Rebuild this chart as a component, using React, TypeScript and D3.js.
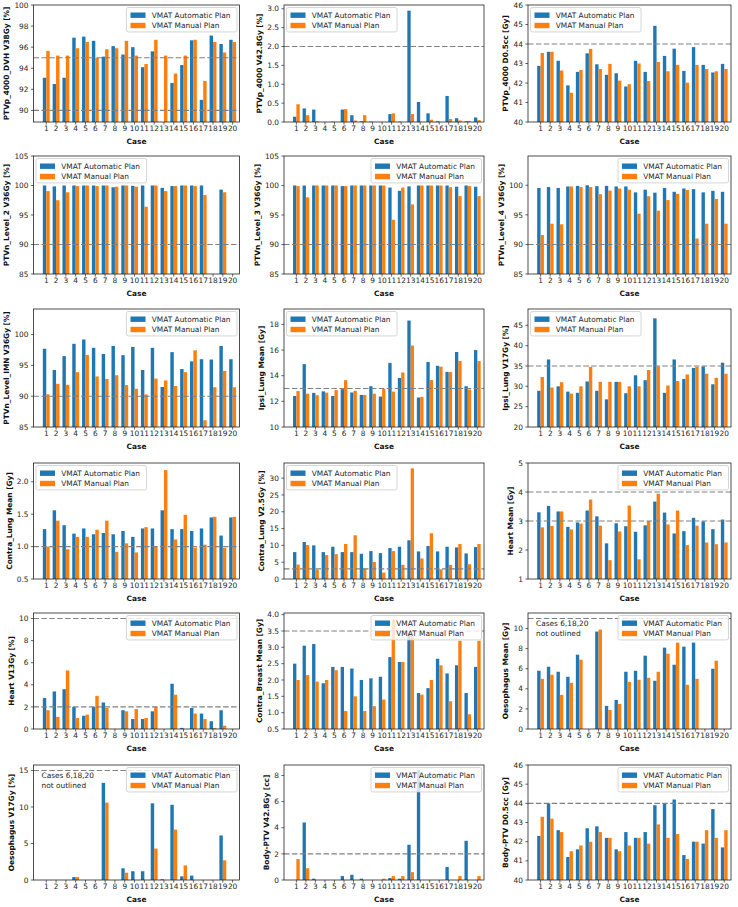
import React from "react";
import * as d3 from "d3";

const FONT = "DejaVu Sans, Liberation Sans, sans-serif";
const FS = 7.4;
const BLUE = "#1f77b4";
const ORANGE = "#ff7f0e";

const cases = [1, 2, 3, 4, 5, 6, 7, 8, 9, 10, 11, 12, 13, 14, 15, 16, 17, 18, 19, 20];
const legendLabels = ["VMAT Automatic Plan", "VMAT Manual Plan"];
const noteLines = ["Cases 6,18,20", "not outlined"];

type V = number | null;

// Row 1
const ptvpV38Auto: V[] = [93.1, 92.5, 93.1, 96.9, 97.0, 96.6, 95.1, 96.1, 95.3, 96.0, 94.1, 95.6, null, 92.6, 94.3, 96.65, 91.0, 97.1, 96.3, 96.7];
const ptvpV38Manual: V[] = [95.65, 95.2, 95.2, 95.9, 96.5, 95.0, 95.8, 95.9, 96.6, 95.2, 94.4, 96.7, 95.2, 93.5, 95.2, 96.7, 92.8, 96.5, 95.5, 96.5];
const ptvpV428Auto: V[] = [0.14, 0.36, 0.33, 0, 0.01, 0.33, 0.18, 0.02, 0.01, 0, 0.21, 0.01, 2.95, 0.53, 0.23, 0.02, 0.69, 0.1, 0.02, 0.12];
const ptvpV428Manual: V[] = [0.47, 0.18, 0.02, 0, 0, 0.34, 0.04, 0.18, 0, 0, 0.23, 0, 0.21, 0, 0.06, 0, 0.08, 0.04, 0.02, 0.05];
const ptvpD05Auto: V[] = [42.88, 43.6, 43.14, 41.88, 42.57, 43.52, 42.96, 42.42, 42.5, 41.82, 43.14, 42.57, 44.93, 43.39, 43.76, 42.62, 43.84, 42.93, 42.54, 42.98];
const ptvpD05Manual: V[] = [43.54, 43.6, 42.64, 41.5, 42.66, 43.75, 42.72, 42.98, 42.12, 41.94, 43.0, 42.1, 43.08, 42.6, 42.93, 42.02, 42.93, 42.72, 42.6, 42.72];

// Row 2
const lvl2Auto: V[] = [100, 99.85, 100, 100, 100, 100, 100, 99.7, 100, 99.95, 100, 100, 99.6, 99.9, 100, 100, 100, null, 99.3, null];
const lvl2Manual: V[] = [99.05, 97.5, 98.85, 99.9, 100, 99.9, 100, 99.8, 100, 99.8, 96.4, 100, 99.05, 99.9, 100, 99.9, 98.4, null, 98.85, null];
const lvl3Auto: V[] = [100, 100, 100, 100, 100, 99.9, 100, 100, 100, 100, 99.65, 99.1, 99.85, 100, 100, 100, 100, 99.8, 100, 99.8];
const lvl3Manual: V[] = [99.9, 98.0, 100, 100, 100, 99.9, 100, 100, 100, 100, 94.2, 99.65, 96.8, 100, 100, 100, 99.7, 98.2, 99.9, 98.2];
const lvl4Auto: V[] = [99.55, 99.7, 99.55, 99.8, 99.9, 100, 99.85, 99.9, 99.8, 99.8, 98.8, 99.25, 98.75, 99.55, 98.9, 99.45, 99.35, 98.8, 99.05, 98.9];
const lvl4Manual: V[] = [91.6, 93.5, 93.4, 99.8, 99.7, 99.7, 98.5, 99.1, 99.45, 99.25, 95.2, 98.15, 95.7, 97.5, 98.55, 99.2, 91.0, 93.5, 97.7, 93.5];

// Row 3
const imnAuto: V[] = [97.7, 94.25, 96.5, 98.5, 99.2, 97.85, 96.85, 98.15, 96.65, 98.0, 94.25, 97.85, 91.5, 97.15, 94.4, 95.65, 96.0, 95.95, 98.15, 96.0];
const imnManual: V[] = [90.3, 92.0, 91.85, 93.9, 96.7, 93.2, 92.8, 93.4, 91.8, 91.2, 90.3, 92.85, 92.55, 91.65, 93.9, 97.45, 86.1, 91.45, 94.1, 91.45];
const ipsiMeanAuto: V[] = [12.42, 14.9, 12.66, 12.78, 12.42, 12.95, 12.69, 12.5, 13.18, 12.37, 15.0, 13.82, 18.3, 12.3, 15.07, 14.77, 14.3, 15.85, 13.18, 16.0];
const ipsiMeanManual: V[] = [12.8, 12.6, 12.48, 12.68, 12.88, 13.65, 12.82, 12.5, 12.6, 12.97, 12.76, 14.25, 16.35, 12.35, 13.67, 14.7, 14.28, 15.15, 12.92, 15.14];
const ipsiV17Auto: V[] = [28.9, 36.6, 30.0, 28.7, 28.4, 31.2, 28.9, 26.8, 31.1, 28.3, 32.7, 31.5, 46.7, 28.4, 36.6, 31.8, 34.5, 34.9, 30.5, 35.8];
const ipsiV17Manual: V[] = [32.3, 29.7, 31.0, 28.2, 30.0, 34.8, 31.1, 31.1, 31.1, 30.0, 30.0, 34.0, 34.9, 30.2, 31.3, 32.9, 34.8, 33.1, 32.1, 33.1];

// Row 4
const contraMeanAuto: V[] = [1.27, 1.56, 1.33, 1.2, 1.28, 1.19, 1.21, 1.19, 1.24, 1.15, 1.28, 1.28, 1.56, 1.27, 1.27, 1.24, 1.28, 1.45, 1.17, 1.45];
const contraMeanManual: V[] = [1.0, 1.4, 0.96, 1.15, 1.15, 1.26, 1.4, 0.92, 1.05, 0.91, 1.3, 1.0, 2.18, 1.11, 1.49, 0.98, 1.03, 1.46, 0.98, 1.46];
const contraV25Auto: V[] = [8.0, 11.0, 10.0, 8.0, 9.6, 8.0, 8.0, 7.5, 8.3, 7.7, 9.2, 9.6, 11.5, 8.2, 9.8, 8.2, 9.6, 9.4, 7.6, 9.5];
const contraV25Manual: V[] = [4.3, 10.1, 2.8, 7.1, 7.4, 10.4, 13.0, 3.1, 5.1, 1.9, 8.3, 4.2, 32.9, 6.1, 13.6, 2.9, 4.2, 10.4, 4.4, 10.4];
const heartMeanAuto: V[] = [3.3, 3.52, 3.33, 2.8, 2.95, 3.36, 3.16, 2.23, 2.92, 2.82, 2.63, 2.85, 3.67, 3.29, 2.57, 2.65, 3.11, 2.99, 2.72, 3.05];
const heartMeanManual: V[] = [2.78, 2.83, 3.33, 2.71, 2.91, 3.74, 2.84, 1.65, 2.64, 3.53, 1.68, 3.0, 3.94, 2.88, 3.36, 2.17, 2.84, 2.26, 2.2, 2.26];

// Row 5
const heartV13Auto: V[] = [2.8, 3.4, 3.6, 2.0, 1.2, 2.0, 2.4, 0, 1.7, 0.9, 0.9, 1.6, 0, 4.1, 0.1, 1.9, 1.4, 0.7, 1.7, 0];
const heartV13Manual: V[] = [1.7, 1.1, 5.3, 1.0, 1.3, 3.0, 1.9, 0, 1.6, 1.8, 1.0, 2.0, 0, 3.1, 0, 1.4, 0.9, 0.1, 0.3, 0];
const breastMeanAuto: V[] = [2.5, 3.05, 3.1, 1.9, 2.4, 2.4, 2.35, 2.0, 2.05, 2.1, 2.7, 2.55, 3.45, 1.6, 1.75, 2.65, 2.2, 2.45, 1.6, 2.4];
const breastMeanManual: V[] = [2.0, 2.15, 1.95, 2.0, 2.3, 1.05, 1.5, 1.05, 1.2, 1.4, 3.85, 2.55, 3.35, 1.55, 2.0, 2.45, 1.35, 3.2, 0.95, 3.2];
const oesoMeanAuto: V[] = [5.8, 6.2, 5.7, 5.2, 7.4, null, 9.7, 2.3, 2.9, 5.7, 5.8, 7.3, 4.8, 8.1, 6.4, 8.2, 8.6, null, 6.0, null];
const oesoMeanManual: V[] = [5.0, 5.4, 3.4, 4.6, 6.9, null, 9.9, 1.9, 2.5, 4.7, 4.9, 5.1, 5.7, 7.5, 8.6, 4.4, 5.0, null, 6.8, null];

// Row 6
const oesoV17Auto: V[] = [0, 0, 0, 0.4, 0, null, 13.3, 0, 1.6, 1.2, 1.2, 10.5, 0.1, 10.3, 0.5, 0.6, 0, null, 6.1, null];
const oesoV17Manual: V[] = [0, 0, 0, 0.4, 0, null, 10.6, 0, 1.0, 0, 0, 4.3, 0, 6.9, 2.0, 0, 0, null, 2.7, null];
const bodyV428Auto: V[] = [0, 4.4, 0.1, 0, 0, 0.3, 0.4, 0.1, 0, 0, 0.15, 0.1, 2.7, 8.4, 0, 0, 1.0, 0, 3.0, 0];
const bodyV428Manual: V[] = [1.6, 0.9, 0, 0, 0, 0, 0, 0, 0, 0.1, 0.3, 0.3, 0.6, 0, 0, 0, 0, 0.3, 0, 0.3];
const bodyD05Auto: V[] = [42.3, 44.0, 42.6, 41.2, 41.6, 42.7, 42.8, 42.2, 41.6, 42.5, 42.2, 42.5, 43.9, 44.0, 44.2, 41.3, 42.0, 41.9, 43.7, 41.7];
const bodyD05Manual: V[] = [43.3, 43.2, 42.5, 41.5, 41.8, 42.0, 42.5, 42.2, 41.5, 41.8, 42.2, 41.9, 42.9, 42.2, 42.4, 41.1, 42.0, 42.6, 42.2, 42.6];

type Panel = {
  label: string;
  auto: V[];
  manual: V[];
  ylim: [number, number];
  ticks: number[];
  dec: number;
  lines: number[];
  legend: "left" | "right";
  note?: boolean;
};

const panels: Panel[] = [
  { label: "PTVp_4000_DVH V38Gy [%]", auto: ptvpV38Auto, manual: ptvpV38Manual, ylim: [88.9, 100], ticks: [90, 92, 94, 96, 98, 100], dec: 0, lines: [95, 90], legend: "right" },
  { label: "PTVp_4000 V42.8Gy [%]", auto: ptvpV428Auto, manual: ptvpV428Manual, ylim: [0, 3.1], ticks: [0, 0.5, 1, 1.5, 2, 2.5, 3], dec: 1, lines: [2], legend: "left" },
  { label: "PTVp_4000 D0.5cc [Gy]", auto: ptvpD05Auto, manual: ptvpD05Manual, ylim: [40, 46], ticks: [40, 41, 42, 43, 44, 45, 46], dec: 0, lines: [44], legend: "left" },
  { label: "PTVn_Level_2 V36Gy [%]", auto: lvl2Auto, manual: lvl2Manual, ylim: [85, 105], ticks: [85, 90, 95, 100, 105], dec: 0, lines: [90], legend: "left" },
  { label: "PTVn_Level_3 V36Gy [%]", auto: lvl3Auto, manual: lvl3Manual, ylim: [85, 105], ticks: [85, 90, 95, 100, 105], dec: 0, lines: [90], legend: "right" },
  { label: "PTVn_Level_4 V36Gy [%]", auto: lvl4Auto, manual: lvl4Manual, ylim: [85, 104.95], ticks: [85, 90, 95, 100], dec: 0, lines: [90], legend: "right" },
  { label: "PTVn_Level_IMN V36Gy [%]", auto: imnAuto, manual: imnManual, ylim: [85, 104.15], ticks: [85, 90, 95, 100], dec: 0, lines: [90], legend: "right" },
  { label: "Ipsi_Lung Mean [Gy]", auto: ipsiMeanAuto, manual: ipsiMeanManual, ylim: [10, 19.2], ticks: [10, 12, 14, 16, 18], dec: 0, lines: [13], legend: "left" },
  { label: "Ipsi_Lung V17Gy [%]", auto: ipsiV17Auto, manual: ipsiV17Manual, ylim: [20, 49.0], ticks: [20, 25, 30, 35, 40, 45], dec: 0, lines: [35], legend: "left" },
  { label: "Contra_Lung Mean [Gy]", auto: contraMeanAuto, manual: contraMeanManual, ylim: [0.5, 2.29], ticks: [0.5, 1, 1.5, 2], dec: 1, lines: [1], legend: "left" },
  { label: "Contra_Lung V2.5Gy [%]", auto: contraV25Auto, manual: contraV25Manual, ylim: [0, 34.5], ticks: [0, 5, 10, 15, 20, 25, 30], dec: 0, lines: [3], legend: "left" },
  { label: "Heart Mean [Gy]", auto: heartMeanAuto, manual: heartMeanManual, ylim: [1, 5], ticks: [1, 2, 3, 4, 5], dec: 0, lines: [4, 3], legend: "right" },
  { label: "Heart V13Gy [%]", auto: heartV13Auto, manual: heartV13Manual, ylim: [0, 10.5], ticks: [0, 2, 4, 6, 8, 10], dec: 0, lines: [10, 2], legend: "right" },
  { label: "Contra_Breast Mean [Gy]", auto: breastMeanAuto, manual: breastMeanManual, ylim: [0.5, 4.05], ticks: [0.5, 1, 1.5, 2, 2.5, 3, 3.5, 4], dec: 1, lines: [3.5], legend: "right" },
  { label: "Oesophagus Mean [Gy]", auto: oesoMeanAuto, manual: oesoMeanManual, ylim: [0, 11.55], ticks: [0, 2, 4, 6, 8, 10], dec: 0, lines: [11], legend: "right", note: true },
  { label: "Oesophagus V17Gy [%]", auto: oesoV17Auto, manual: oesoV17Manual, ylim: [0, 15.75], ticks: [0, 5, 10, 15], dec: 0, lines: [15], legend: "right", note: true },
  { label: "Body-PTV V42.8Gy [cc]", auto: bodyV428Auto, manual: bodyV428Manual, ylim: [0, 8.8], ticks: [0, 2, 4, 6, 8], dec: 0, lines: [2], legend: "right" },
  { label: "Body-PTV D0.5cc [Gy]", auto: bodyD05Auto, manual: bodyD05Manual, ylim: [40, 46], ticks: [40, 41, 42, 43, 44, 45, 46], dec: 0, lines: [44], legend: "right" },
];

const colLeft = [33.5, 284, 528];
const colRight = [239.5, 484, 731];
const rowTop = [5, 156, 309, 463, 613, 765];
const rowBottom = [122, 274, 427, 579, 729, 880];

const BAR_W = 0.35;

function textWidth(s: string) {
  let w = 0;
  for (const ch of s) w += ch === "." ? 0.318 : 0.636;
  return w * FS;
}

function PanelView({ p, idx }: { p: Panel; idx: number }) {
  const row = Math.floor(idx / 3);
  const col = idx % 3;
  const x0 = colLeft[col];
  const x1 = colRight[col];
  const y0 = rowTop[row];
  const y1 = rowBottom[row];
  const x = d3.scaleLinear().domain([-0.3, 20.7]).range([x0, x1]);
  const y = d3.scaleLinear().domain(p.ylim).range([y1, y0]);
  const bw = x(BAR_W) - x(0);
  const fmt = d3.format(`.${p.dec}f`);
  const maxLabelW = d3.max(p.ticks, (t) => textWidth(fmt(t))) || 0;
  const ylabX = x0 - 5.5 - maxLabelW - 4.6;
  const lo = p.ylim[0];
  const hi = p.ylim[1];
  const base = Math.max(0, lo);

  const bars = (vals: V[], off: number, color: string) =>
    vals.map((v, i) => {
      if (v === null || v <= base) return null;
      const top = y(Math.min(v, hi));
      const bot = y(base);
      const cx = x(cases[i]) + off * bw;
      return <rect key={`${color}-${i}`} x={cx - bw / 2} y={top} width={bw} height={Math.max(0, bot - top)} fill={color} />;
    });

  const legW = 110.5;
  const legH = 24.4;
  const legX = p.legend === "right" ? x1 - 2.5 - legW : x0 + 2.5;
  const legY = y0 + 2.5;

  return (
    <g>
      {bars(p.auto, -0.5, BLUE)}
      {bars(p.manual, 0.5, ORANGE)}
      {p.lines.map((l) => (
        <line key={l} x1={x0} x2={x1} y1={y(l)} y2={y(l)} stroke="#808080" strokeWidth={1.1} strokeDasharray="5.5,2.4" />
      ))}
      <rect x={x0} y={y0} width={x1 - x0} height={y1 - y0} fill="none" stroke="#222" strokeWidth={0.8} />
      {p.ticks.map((t) => (
        <g key={t}>
          <line x1={x0 - 2.6} x2={x0} y1={y(t)} y2={y(t)} stroke="#222" strokeWidth={0.7} />
          <text x={x0 - 5} y={y(t)} dy="0.36em" textAnchor="end" fontSize={FS} fill="#262626">
            {fmt(t)}
          </text>
        </g>
      ))}
      {cases.map((c) => (
        <g key={c}>
          <line x1={x(c)} x2={x(c)} y1={y1} y2={y1 + 2.6} stroke="#222" strokeWidth={0.7} />
          <text x={x(c)} y={y1 + 8.5} textAnchor="middle" fontSize={FS} fill="#262626">
            {c}
          </text>
        </g>
      ))}
      <text x={(x0 + x1) / 2} y={y1 + 21.5} textAnchor="middle" fontSize={FS} fontWeight="bold" fill="#111">
        Case
      </text>
      <text
        transform={`translate(${ylabX},${(y0 + y1) / 2}) rotate(-90)`}
        textAnchor="middle"
        fontSize={FS}
        fontWeight="bold"
        fill="#111"
      >
        {p.label}
      </text>
      {p.note && (
        <g>
          {noteLines.map((s, i) => (
            <text key={s} x={x0 + 8} y={y0 + 13 + i * 9.5} fontSize={FS} fill="#222">
              {s}
            </text>
          ))}
        </g>
      )}
      <g>
        <rect x={legX} y={legY} width={legW} height={legH} rx={1.8} fill="white" fillOpacity={0.8} stroke="#cccccc" strokeWidth={0.8} />
        {legendLabels.map((s, i) => (
          <g key={s}>
            <rect x={legX + 4} y={legY + 7.7 + i * 10.3 - 2.7} width={15} height={5.4} fill={i === 0 ? BLUE : ORANGE} />
            <text x={legX + 25.3} y={legY + 7.7 + i * 10.3} dy="0.36em" fontSize={FS} fill="#262626">
              {s}
            </text>
          </g>
        ))}
      </g>
    </g>
  );
}

export default function App() {
  return (
    <svg width={738} height={907} style={{ display: "block", position: "absolute", left: 0, top: 0, background: "white" }} fontFamily={FONT}>
      <rect x={0} y={0} width={738} height={907} fill="white" />
      {panels.map((p, i) => (
        <PanelView key={i} p={p} idx={i} />
      ))}
    </svg>
  );
}
